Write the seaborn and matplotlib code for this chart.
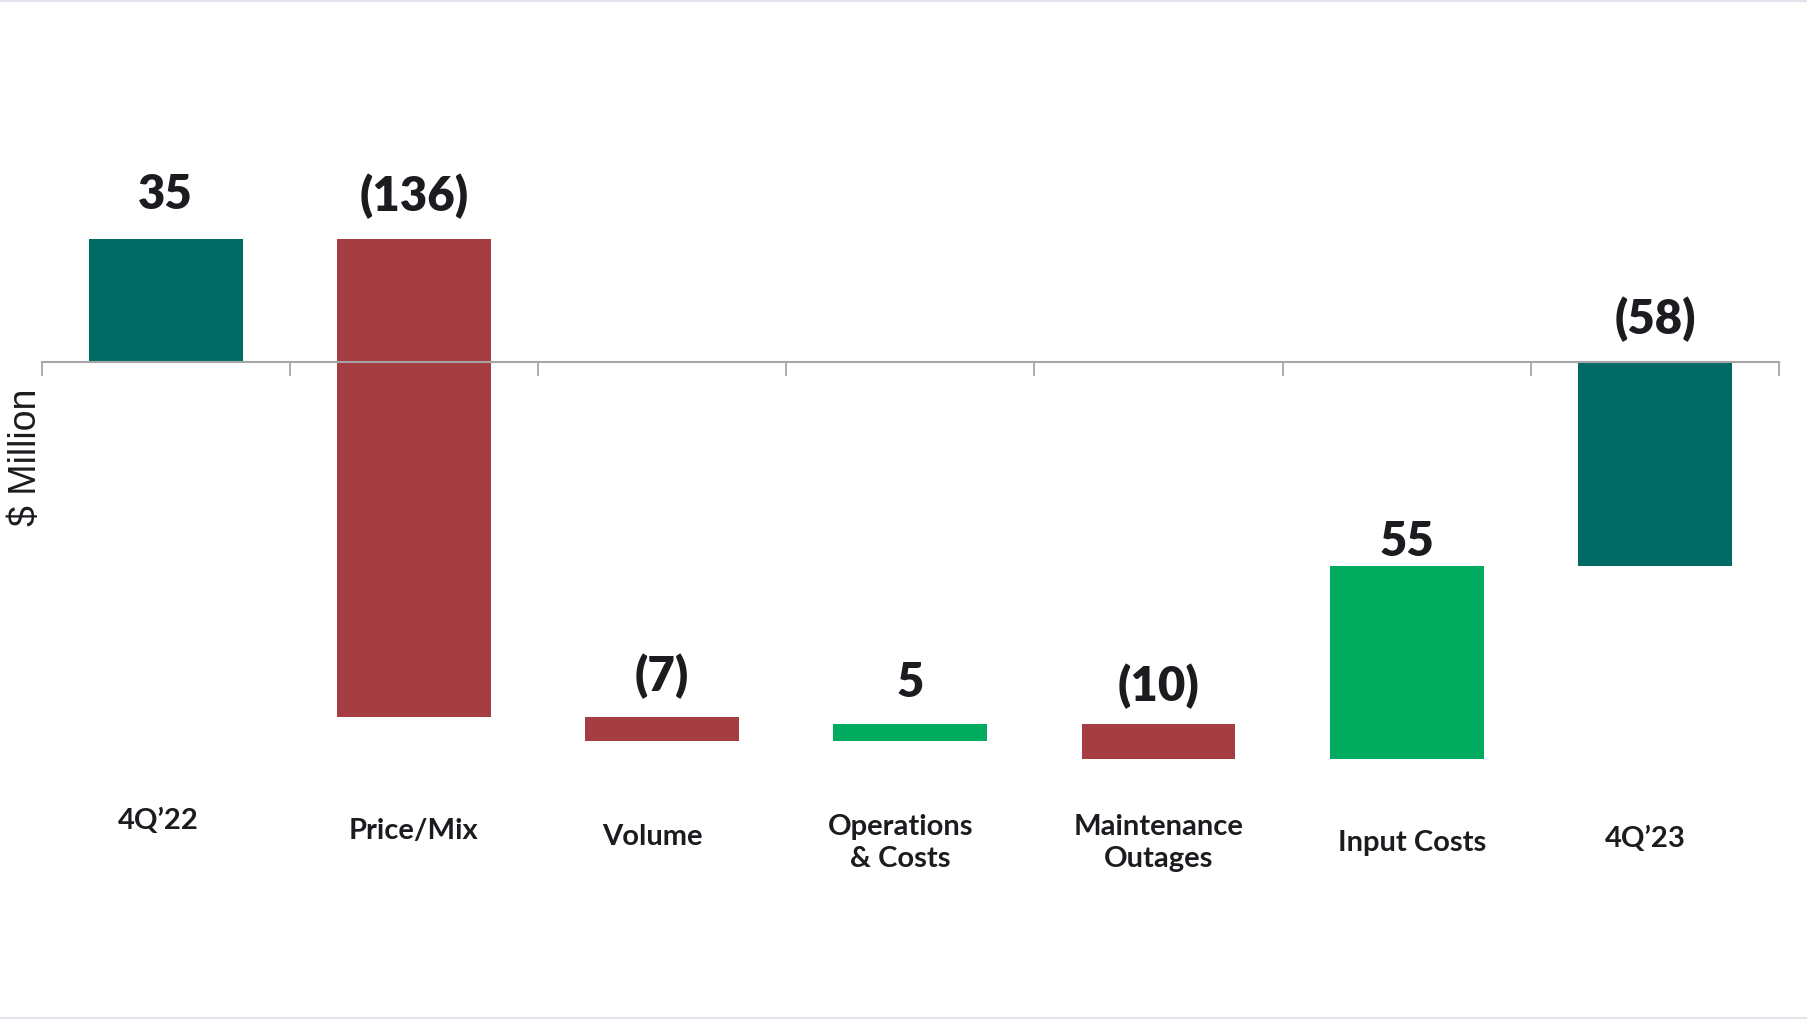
import numpy as np
import pandas as pd
import matplotlib
matplotlib.use("Agg")
import matplotlib.pyplot as plt
import matplotlib.transforms as mtransforms
from matplotlib.lines import Line2D
import seaborn as sns

# ---------------- data ----------------
categories = ["4Q\u201922", "Price/Mix", "Volume", "Operations\n& Costs",
              "Maintenance\nOutages", "Input Costs", "4Q\u201923"]
changes = [35, -136, -7, 5, -10, 55, -58]
kinds = ["total", "delta", "delta", "delta", "delta", "delta", "total"]

# ---------------- derived waterfall geometry ----------------
bottoms, heights = [], []
running = 0.0
for v, k in zip(changes, kinds):
    if k == "total":
        bottoms.append(0.0)
        heights.append(v)
        running = v
    else:
        bottoms.append(running)
        heights.append(v)
        running += v

TEAL = "#006B64"
RED = "#A63D43"
GREEN = "#00AA5E"
colors = [TEAL if k == "total" else (GREEN if v > 0 else RED)
          for v, k in zip(changes, kinds)]

df = pd.DataFrame({"category": categories, "height": heights})

sns.set_theme(style="white")
plt.rcParams["font.family"] = ["Lato", "DejaVu Sans"]

W, H, DPI = 1808, 1019, 100
fig = plt.figure(figsize=(W / DPI, H / DPI), dpi=DPI)
fig.patch.set_facecolor("white")

x0, x1 = 41.5, 1779.0
ax = fig.add_axes([x0 / W, 0, (x1 - x0) / W, 1])
ax.set_facecolor("none")

sns.barplot(data=df, x="category", y="height", bottom=bottoms, width=0.62,
            errorbar=None, color=TEAL, saturation=1, ax=ax, zorder=1)
for p, c in zip(ax.patches, colors):
    p.set_facecolor(c)
    p.set_edgecolor("none")

# scale: zero line at pixel 362, 3.51 px per unit
zero_px, ppu = 362.0, 3.51
ax.set_ylim(-(H - zero_px) / ppu, zero_px / ppu)
ax.set_xlim(-0.5, len(categories) - 0.5)

for s in ["top", "right", "left"]:
    ax.spines[s].set_visible(False)
ax.spines["bottom"].set_position(("data", 0))
ax.spines["bottom"].set_color("#A6A6A6")
ax.spines["bottom"].set_linewidth(1.5)
ax.spines["bottom"].set_zorder(3)
ax.set_xticks(np.arange(-0.5, len(categories), 1.0))
ax.set_xticklabels([])
ax.tick_params(axis="x", direction="out", length=10, width=1.3,
               color="#A6A6A6", bottom=True)
ax.set_yticks([])
ax.set_xlabel("")
ax.set_ylabel("")

# value labels
gaps_px = [30, 28, 25, 27, 22, 10, 28]
for i, (v, b, h) in enumerate(zip(changes, bottoms, heights)):
    top = max(b, b + h)
    txt = f"{v}" if v >= 0 else f"({-v})"
    ax.annotate(txt, xy=(i, top), xytext=(0, gaps_px[i] * 72 / DPI),
                textcoords="offset points", ha="center", va="baseline",
                fontsize=34, fontweight="heavy", color="#1A1C20")

# category labels
label_y_px = [821, 831, 837, 843, 843, 843, 839]
label_dx = [-0.03, 0.0, -0.04, -0.04, 0.0, 0.02, -0.04]
trans = mtransforms.blended_transform_factory(ax.transData, fig.transFigure)
for i, lab in enumerate(categories):
    ax.text(i + label_dx[i], 1 - label_y_px[i] / H, lab, transform=trans,
            ha="center", va="center", fontsize=21, fontweight="bold",
            color="#1A1C20", linespacing=1.3)

# y axis label
fig.text(26 / W, 1 - 457 / H, "$ Million", rotation=90, ha="center",
         va="center", fontsize=27, family=["Liberation Sans", "DejaVu Sans"],
         color="#1A1C20")

# thin frame lines at top and bottom
fig.add_artist(Line2D([0, 1], [1 - 0.5 / H, 1 - 0.5 / H], transform=fig.transFigure,
                      color="#E1E4EA", lw=1.5))
fig.add_artist(Line2D([0, 1], [1.5 / H, 1.5 / H], transform=fig.transFigure,
                      color="#E1E4EA", lw=1.5))

fig.savefig("out.png", dpi=DPI, facecolor="white")
